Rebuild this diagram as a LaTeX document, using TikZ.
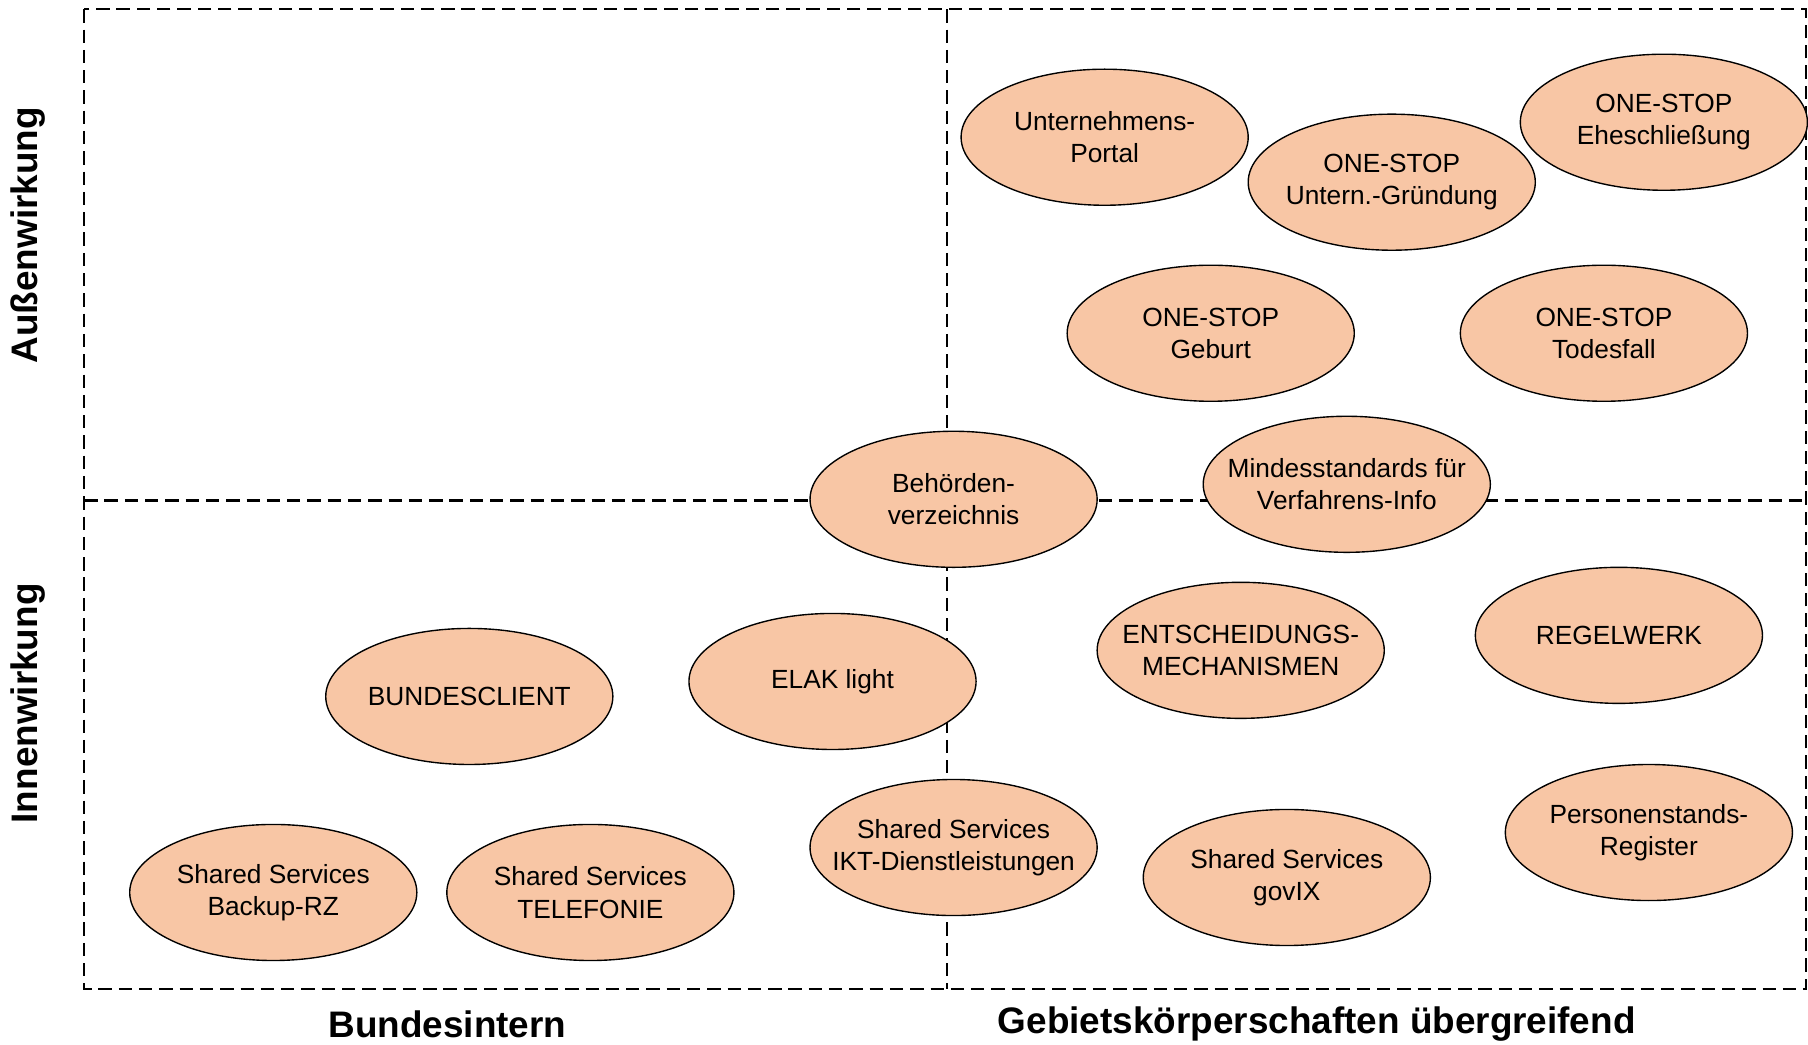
\documentclass[tikz,border=0pt]{standalone}
\usepackage{fontspec}
\setmainfont{Liberation Sans}
\usetikzlibrary{shapes,positioning}
\definecolor{lachs}{RGB}{248,198,165}

\begin{document}
\begin{tikzpicture}[x=0.5pt, y=-0.5pt,
    projekt/.style={ellipse, draw=black, line width=0.6pt, fill=lachs, minimum width=124.5pt, minimum height=59pt, inner xsep=-12pt, inner ysep=0pt, align=center, font=\fontsize{11.4}{14}\selectfont},
    achse/.style={font=\fontsize{16}{19}\selectfont\bfseries},
    raster/.style={dash pattern=on 5.8pt off 3pt, line width=1pt}]
    \useasboundingbox (0,0) rectangle (1568,906);
    % Raster
    \coordinate (NW) at (73,8);
    \coordinate (SE) at (1566,858);
    \coordinate (N) at (821,8);
    \coordinate (S) at (821,858);
    \coordinate (W) at (73,434);
    \coordinate (E) at (1566,434);
    \draw[raster] (NW) rectangle (SE);
    \draw[raster] (N) -- (S);
    \draw[raster] (W) -- (E);
    % Achsen
    \node (aussen) [achse, rotate=90] at (24,204) {Außenwirkung};
    \node (innen) [achse, rotate=90] at (24,610) {Innenwirkung};
    \node (bund) [achse] at (388,888) {Bundesintern};
    \node (gebiet) [achse] at (1142,888) {Gebietskörperschaften übergreifend};
    % Projekte
    \node (portal) [projekt] at (958,119) {Unternehmens-\\Portal};
    \node (gruendung) [projekt] at (1207,158) {ONE-STOP\\Untern.-Gründung};
    \node (ehe) [projekt] at (1443,106) {ONE-STOP\\Eheschließung};
    \node (geburt) [projekt] at (1050,289) {ONE-STOP\\Geburt};
    \node (tod) [projekt] at (1391,289) {ONE-STOP\\Todesfall};
    \node (behoerden) [projekt] at (827,433) {Behörden-\\verzeichnis};
    \node (mindest) [projekt] at (1168,420) {Mindesstandards für\\Verfahrens-Info};
    \node (entscheid) [projekt] at (1076,564) {ENTSCHEIDUNGS-\\MECHANISMEN};
    \node (regel) [projekt] at (1404,551) {REGELWERK};
    \node (client) [projekt] at (407,604) {BUNDESCLIENT};
    \node (elak) [projekt] at (722,591) {ELAK light};
    \node (ikt) [projekt] at (827,735) {Shared Services\\IKT-Dienstleistungen};
    \node (govix) [projekt] at (1116,761) {Shared Services\\govIX};
    \node (register) [projekt] at (1430,722) {Personenstands-\\Register};
    \node (backup) [projekt] at (237,774) {Shared Services\\Backup-RZ};
    \node (telefon) [projekt] at (512,774) {Shared Services\\TELEFONIE};
\end{tikzpicture}
\end{document}
